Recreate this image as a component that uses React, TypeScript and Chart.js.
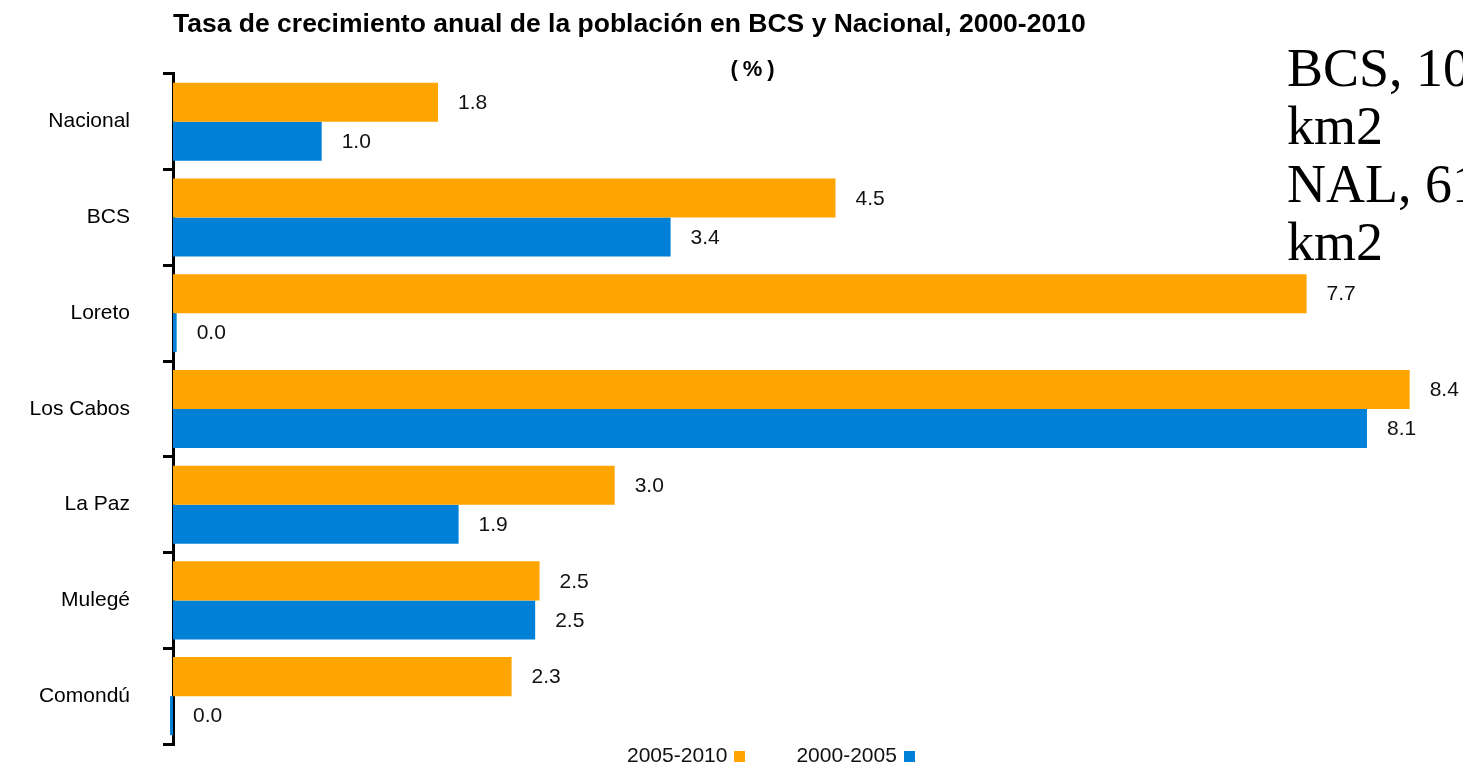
import React, { useEffect, useRef } from "react";
import { Chart, registerables } from "chart.js";

Chart.register(...registerables);

const categories = ["Nacional", "BCS", "Loreto", "Los Cabos", "La Paz", "Mulegé", "Comondú"];
const growth2005to2010 = [1.8, 4.5, 7.7, 8.4, 3.0, 2.49, 2.3];
const growth2000to2005 = [1.01, 3.38, 0.025, 8.11, 1.94, 2.46, -0.02];
const seriesNames = ["2005-2010", "2000-2005"];
const seriesColors = ["#FFA500", "#0080D6"];
const chartTitle = "Tasa de crecimiento anual de la población en BCS y Nacional, 2000-2010";
const unitText = "(%)";
const noteLines = ["BCS, 10", "km2", "NAL, 61", "km2"];

const SANS = "'Liberation Sans', Arial, Helvetica, sans-serif";

const fmt = (v: number) => (Math.round(v * 10) / 10).toFixed(1);

const valueLabels = {
  id: "valueLabels",
  afterDatasetsDraw(chart: any) {
    const ctx = chart.ctx;
    ctx.save();
    ctx.font = `21px ${SANS}`;
    ctx.fillStyle = "#111";
    ctx.textAlign = "left";
    ctx.textBaseline = "middle";
    chart.data.datasets.forEach((ds: any, di: number) => {
      const meta = chart.getDatasetMeta(di);
      meta.data.forEach((bar: any, i: number) => {
        const v = ds.data[i] as number;
        const p = bar.getProps(["x", "y", "base"], true);
        const end = Math.max(p.x, p.base);
        ctx.fillText(fmt(v), end + 20, p.y + 1);
      });
    });
    ctx.restore();
  },
};

export default function App() {
  const canvasRef = useRef<HTMLCanvasElement | null>(null);

  useEffect(() => {
    if (!canvasRef.current) return;
    const chart = new Chart(canvasRef.current, {
      type: "bar",
      data: {
        labels: categories,
        datasets: [
          {
            label: seriesNames[0],
            data: growth2005to2010,
            backgroundColor: seriesColors[0],
            categoryPercentage: 0.815,
            barPercentage: 1,
            clip: false as any,
          },
          {
            label: seriesNames[1],
            data: growth2000to2005,
            backgroundColor: seriesColors[1],
            categoryPercentage: 0.815,
            barPercentage: 1,
            clip: false as any,
          },
        ],
      },
      options: {
        indexAxis: "y",
        responsive: false,
        animation: false,
        layout: { padding: { left: 0, right: 22, top: 0, bottom: 21 } },
        scales: {
          x: { display: false, min: 0, max: 9 },
          y: {
            z: 1,
            afterFit: (s: any) => {
              s.width = 173;
              s.paddingTop = 0;
              s.paddingBottom = 0;
            },
            grid: {
              display: true,
              drawOnChartArea: false,
              drawTicks: true,
              tickLength: 10,
              color: "#000",
              lineWidth: 3,
              offset: true,
            },
            border: { display: true, color: "#000", width: 3 },
            ticks: {
              color: "#000",
              font: { size: 21, family: SANS },
              padding: 33,
            },
          },
        },
        plugins: {
          legend: { display: false },
          tooltip: { enabled: false },
          title: {
            display: true,
            text: chartTitle,
            align: "start",
            fullSize: false,
            color: "#000",
            font: { size: 26.5, weight: "bold", family: SANS },
            padding: { top: 9, bottom: 33 },
          },
        },
      },
      plugins: [valueLabels],
    });
    return () => chart.destroy();
  }, []);

  return (
    <div
      style={{
        position: "fixed",
        left: 0,
        top: 0,
        width: 1463,
        height: 765,
        overflow: "hidden",
        background: "#fff",
      }}
    >
      <canvas ref={canvasRef} width={1520} height={765} style={{ position: "absolute", left: 0, top: 0 }} />
      <div
        style={{
          position: "absolute",
          left: 680,
          width: 150,
          top: 54,
          textAlign: "center",
          font: `bold 22px ${SANS}`,
          letterSpacing: "5px",
          lineHeight: "30px",
          color: "#000",
          whiteSpace: "pre",
        }}
      >
        {unitText}
      </div>
      <div
        style={{
          position: "absolute",
          left: 1287,
          top: 39,
          font: "54px 'Liberation Serif', 'Times New Roman', serif",
          lineHeight: "58px",
          color: "#000",
          whiteSpace: "nowrap",
        }}
      >
        {noteLines.map((t, i) => (
          <div key={i}>{t}</div>
        ))}
      </div>
      <div
        style={{
          position: "absolute",
          left: 627,
          top: 743,
          display: "flex",
          alignItems: "baseline",
          font: `21px ${SANS}`,
          lineHeight: "24px",
          color: "#111",
          whiteSpace: "nowrap",
        }}
      >
        {seriesNames.map((n, i) => (
          <span key={n} style={{ marginLeft: i === 0 ? 0 : 51 }}>
            {n}
            <span
              style={{
                display: "inline-block",
                width: 11,
                height: 11,
                marginLeft: 7,
                background: seriesColors[i],
              }}
            />
          </span>
        ))}
      </div>
    </div>
  );
}
